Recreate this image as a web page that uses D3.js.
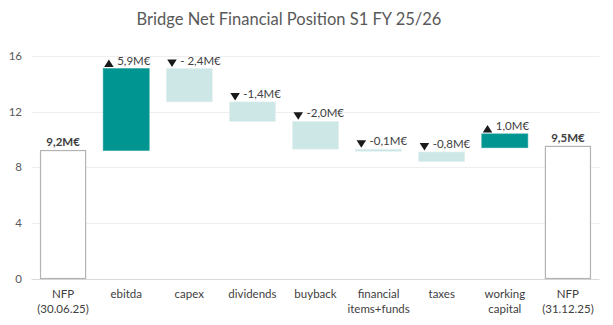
<!DOCTYPE html>
<html><head><meta charset="utf-8">
<script src="https://cdn.jsdelivr.net/npm/d3@7"></script>
<style>body{margin:0;background:#fff}svg{display:block}</style></head>
<body><svg id="c" width="613" height="325"></svg>
<script>
const categories = [["NFP","(30.06.25)"],["ebitda"],["capex"],["dividends"],["buyback"],["financial","items+funds"],["taxes"],["working","capital"],["NFP","(31.12.25)"]];
const barStart = [0, 9.2, 15.1, 12.7, 11.3, 9.3, 9.1, 9.4, 0];
const barEnd   = [9.2, 15.1, 12.7, 11.3, 9.3, 9.15, 8.4, 10.4, 9.5];
const barLabels = ["9,2M€","5,9M€","- 2,4M€","-1,4M€","-2,0M€","-0,1M€","-0,8M€","1,0M€","9,5M€"];
const barKind = ["total","up","down","down","down","down","down","up","total"];
const yTicks = [0, 4, 8, 12, 16];
const title = "Bridge Net Financial Position S1 FY 25/26";

const svg = d3.select("#c");
const font = "Lato, 'Open Sans', sans-serif";
const x = d3.scaleBand().domain(d3.range(categories.length)).range([31.5, 599.5]).paddingInner(0.27).paddingOuter(0.135);
const y = d3.scaleLinear().domain([0, 16]).range([278.5, 56]);

svg.append("text").attr("x", 289).attr("y", 24.5).attr("text-anchor","middle")
  .attr("font-family", font).attr("font-size", 16.5).attr("fill","#595959").text(title);

// gridlines
svg.append("g").selectAll("line").data(yTicks).join("line")
  .attr("x1", 31.5).attr("x2", 599.5)
  .attr("y1", d => Math.round(y(d)) + 0.5).attr("y2", d => Math.round(y(d)) + 0.5)
  .attr("stroke", d => d === 0 ? "#d9d9d9" : "#efefef").attr("stroke-width", 1);

svg.append("g").selectAll("text").data(yTicks).join("text")
  .attr("x", 22).attr("y", d => y(d) + 4).attr("text-anchor","end")
  .attr("font-family", font).attr("font-size", 11.5).attr("fill","#595959").text(d => d);

const fills = {total:"#ffffff", up:"#009590", down:"#cde7e6"};
const idx = d3.range(categories.length);

svg.append("g").selectAll("rect").data(idx).join("rect")
  .attr("x", i => x(i) + (barKind[i]==="total" ? 0.5 : 0))
  .attr("width", i => x.bandwidth() - (barKind[i]==="total" ? 1 : 0))
  .attr("y", i => y(Math.max(barStart[i], barEnd[i])))
  .attr("height", i => Math.abs(y(barStart[i]) - y(barEnd[i])))
  .attr("fill", i => fills[barKind[i]])
  .attr("stroke", i => barKind[i]==="total" ? "#b3b3b3" : (barKind[i]==="up" ? "#2aa6a2" : "#e3f1f0"))
  .attr("stroke-width", i => barKind[i]==="total" ? 1.2 : 0.6);

// labels
const lab = svg.append("g");
idx.forEach(i => {
  const top = y(Math.max(barStart[i], barEnd[i]));
  const x0 = x(i);
  if (barKind[i] === "total") {
    lab.append("text").attr("x", x0 + x.bandwidth()/2).attr("y", top - 4.5).attr("text-anchor","middle")
      .attr("font-family", font).attr("font-size", 11.5).attr("font-weight", 700).attr("fill","#404040")
      .text(barLabels[i]);
  } else {
    const tx = x0 + 1, tb = top - 1.5, tt = top - 9;
    const pts = barKind[i] === "up"
      ? [[tx, tb], [tx + 9.5, tb], [tx + 4.75, tt]]
      : [[tx, tt], [tx + 9.5, tt], [tx + 4.75, tb]];
    lab.append("path").attr("d", d3.line()(pts) + "Z").attr("fill", "#1a1a1a");
    lab.append("text").attr("x", x0 + 14).attr("y", top - 4).attr("font-family", font)
      .attr("font-size", 11.5).attr("fill","#404040").text(barLabels[i]);
  }
});

// x labels
svg.append("g").selectAll("text").data(idx).join("text")
  .attr("x", i => x(i) + x.bandwidth()/2).attr("y", 298).attr("text-anchor","middle")
  .attr("font-family", font).attr("font-size", 11.5).attr("fill","#404040")
  .each(function(i){
    const t = d3.select(this);
    categories[i].forEach((s, k) => t.append("tspan").attr("x", x(i) + x.bandwidth()/2).attr("dy", k ? 15 : 0).text(s));
  });
</script></body></html>
